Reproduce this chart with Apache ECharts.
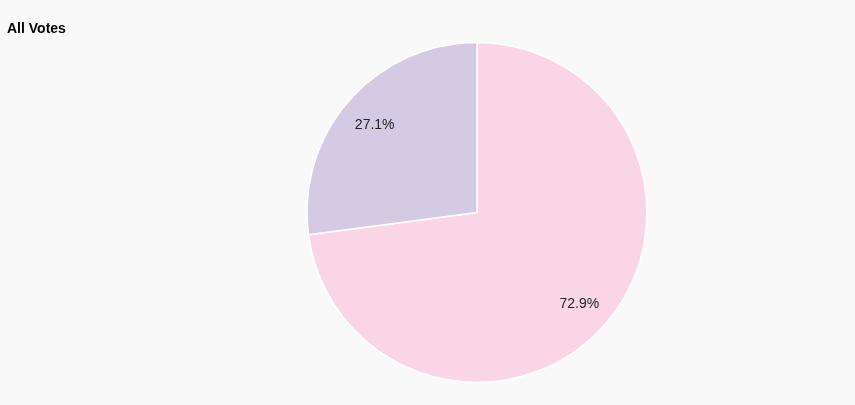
<!DOCTYPE html>
<html><head><meta charset="utf-8">
<script src="https://cdn.jsdelivr.net/npm/echarts@6/dist/echarts.min.js"></script>
<style>html,body{margin:0;padding:0;background:#f9f9f9}#c{width:855px;height:405px}</style>
</head><body><div id="c"></div>
<script>
const categories = ['Yes', 'No'];
const values = [72.9, 27.1];
const colors = ['#f9d5e5', '#d5cae4'];

const chart = echarts.init(document.getElementById('c'), null, {renderer: 'canvas'});
const data = categories.map((n, i) => ({name: n, value: values[i], itemStyle: {color: colors[i]}}));
chart.setOption({
  backgroundColor: '#f9f9f9',
  animation: false,
  title: {text: 'All Votes', left: 2, top: 17, textStyle: {fontFamily: 'Liberation Sans, Arial', fontSize: 14, fontWeight: 'bold', color: '#000'}},
  series: [
    {type: 'pie', center: [477, 212.5], radius: [0, 170], startAngle: 90, clockwise: true,
     data: data, label: {show: false}, labelLine: {show: false},
     itemStyle: {borderColor: '#ffffff', borderWidth: 1.5}, emphasis: {disabled: true}},
    {type: 'pie', center: [477, 212.5], radius: [96, 170], startAngle: 90, clockwise: true, silent: true,
     data: categories.map((n, i) => ({name: n, value: values[i], itemStyle: {color: 'rgba(0,0,0,0)'}})),
     label: {show: true, position: 'inside', offset: [0, 2], formatter: p => p.value.toFixed(1) + '%', fontFamily: 'Liberation Sans, Arial', fontSize: 14, color: '#222'},
     labelLine: {show: false}, itemStyle: {borderWidth: 0}, emphasis: {disabled: true}}
  ]
});
</script></body></html>
